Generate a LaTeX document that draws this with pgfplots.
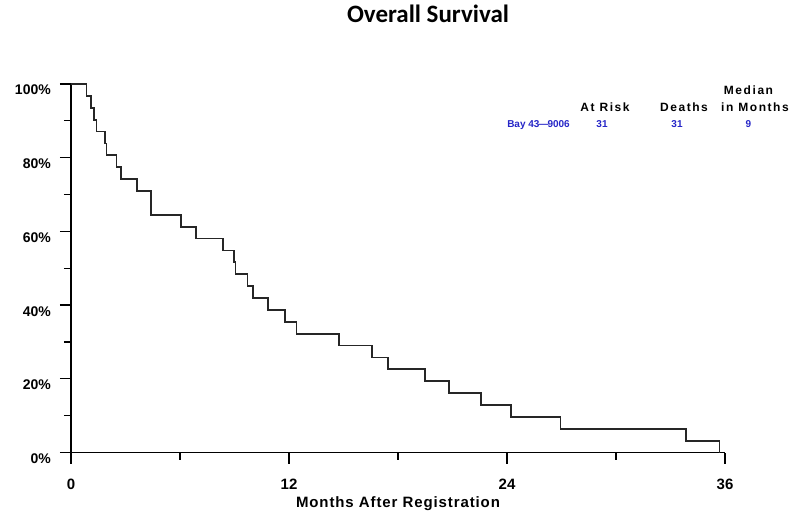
\documentclass[border=0pt]{standalone}
\usepackage{fontspec}
\setmainfont{Liberation Sans}
\newfontfamily\titlefont{Carlito}
\newfontfamily\headfont{Liberation Sans}[LetterSpace=13]
\newfontfamily\axfont{Liberation Sans}[LetterSpace=6]
\usepackage{pgfplots}
\pgfplotsset{compat=1.18}
\definecolor{legblue}{rgb}{0.15,0.15,0.78}
\begin{document}
\begin{tikzpicture}[x=1pt,y=1pt]
\path[use as bounding box] (0,0) rectangle (800,520);
\begin{axis}[
  at={(71pt,67.5pt)}, anchor=origin,
  scale only axis, width=654pt, height=368.5pt,
  xmin=0, xmax=36, ymin=0, ymax=100,
  axis lines=left, axis line style={-, line width=1.3pt, black},
  xtick={0,12,24,36}, minor xtick={6,18,30},
  ytick={0,20,40,60,80,100}, minor ytick={10,30,50,70,90},
  yticklabel={\pgfmathprintnumber{\tick}\%},
  tick align=outside,
  major tick length=11pt, minor tick length=7pt,
  tick style={line width=1.3pt, black},
  /pgf/number format/assume math mode=true,
  xticklabel style={font=\bfseries\fontsize{15}{15}\selectfont, anchor=base, inner sep=0pt, yshift=-26pt},
  yticklabel style={font=\bfseries\fontsize{14}{14}\selectfont, anchor=base east, inner sep=0pt, xshift=-9pt, yshift=-11pt},
  xlabel={\axfont\bfseries Months After Registration},
  xlabel style={font=\fontsize{15}{15}\selectfont, at={(axis description cs:0.5,0)}, anchor=base, inner sep=0pt, yshift=-55pt},
  clip=false,
]
\addplot[const plot, black!85, line width=1.8pt] coordinates {
(0,100) (0.85,96.774) (1.11,93.548) (1.25,90.323) (1.40,87.097)
(1.89,83.871) (1.95,80.645) (2.50,77.419) (2.74,74.194) (3.64,70.968)
(4.41,64.516) (6.06,61.290) (6.86,58.065) (8.35,54.839) (8.99,51.613)
(9.05,48.387) (9.72,45.161) (10.00,41.935) (10.83,38.710) (11.76,35.484)
(12.41,32.258) (14.77,29.032) (16.59,25.806) (17.47,22.581) (19.50,19.355)
(20.79,16.129) (22.59,12.903) (24.24,9.677) (26.95,6.452) (33.86,3.226)
(35.70,0)
};
\end{axis}
\node[anchor=base, font=\titlefont\bfseries\fontsize{25}{25}\selectfont] at (428,497) {Overall Survival};
\begin{scope}[every node/.style={anchor=base, inner sep=0pt, font=\headfont\bfseries\fontsize{12}{12}\selectfont}]
\node at (748.5,425.7) {Median};
\node at (605,408.3) {At Risk};
\node at (684,408.3) {Deaths};
\node at (755,408.3) {in Months};
\end{scope}
\begin{scope}[every node/.style={anchor=base, inner sep=0pt, text=legblue, font=\bfseries\fontsize{10}{10}\selectfont}]
\node at (538.5,392) {Bay 43\kern-1pt—\kern-1pt9006};
\node at (602,392) {31};
\node at (677,392) {31};
\node at (748.5,392) {9};
\end{scope}
\end{tikzpicture}
\end{document}
